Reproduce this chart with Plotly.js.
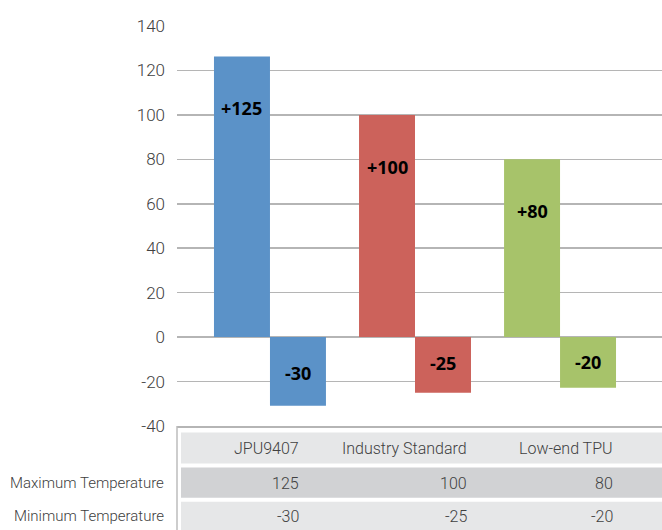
<!DOCTYPE html>
<html><head><meta charset="utf-8">
<script src="https://cdn.plot.ly/plotly-3.0.1.min.js"></script>
<style>html,body{margin:0;padding:0;background:#fff}#chart{width:662px;height:530px}</style>
</head><body><div id="chart"></div>
<script>
// ---- data ----
const categories = ['JPU9407', 'Industry Standard', 'Low-end TPU'];
const rowLabels = ['Maximum Temperature', 'Minimum Temperature'];
const maxTemp = [125, 100, 80];      // labelled values
const minTemp = [-30, -25, -20];
const maxBar = [126.3, 100, 80];     // bar lengths as drawn
const minBar = [-30.9, -25, -22.8];
const barColors = ['#5B92C8', '#CC625B', '#A7C36A'];
const yTicks = [-40, -20, 0, 20, 40, 60, 80, 100, 120, 140];

// ---- layout helpers (pixel geometry) ----
const W = 662, H = 530, L = 177, T = 25.5, B = 426.5;
const px = x => (x - L) / (W - L);
const py = y => (B - y) / (B - T);

const thin = {family: 'Roboto, "Open Sans", sans-serif', size: 16, color: '#404040', weight: 300};
const rowFont = {family: 'Roboto, "Open Sans", sans-serif', size: 15, color: '#404040', weight: 300};
const tickFont = {family: 'Roboto, "Open Sans", sans-serif', size: 17, color: '#404040', weight: 300};
const bold = {family: '"Open Sans", sans-serif', size: 18, color: '#000000', weight: 700};

const traces = [
  {type: 'bar', x: categories, y: maxBar, marker: {color: barColors}, hoverinfo: 'skip', name: rowLabels[0]},
  {type: 'bar', x: categories, y: minBar, marker: {color: barColors}, hoverinfo: 'skip', name: rowLabels[1]}
];

const annotations = [];
const shapes = [];
// bar value labels
const offMax = -52, offMin = [33, 30, 26];
categories.forEach((c, i) => {
  annotations.push({xref: 'x', yref: 'y', x: i, xshift: -28, y: maxBar[i], yshift: offMax,
    text: '+' + maxTemp[i], showarrow: false, font: bold, xanchor: 'center', yanchor: 'middle'});
  annotations.push({xref: 'x', yref: 'y', x: i, xshift: 28, y: minBar[i], yshift: offMin[i],
    text: String(minTemp[i]), showarrow: false, font: bold, xanchor: 'center', yanchor: 'middle'});
});
// data table rows
const rows = [
  {y0: 433, y1: 464, fill: '#E6E7E8', cells: categories},
  {y0: 468, y1: 498.5, fill: '#D1D2D4', cells: maxTemp.map(String), label: rowLabels[0]},
  {y0: 502.5, y1: 532, fill: '#E6E7E8', cells: minTemp.map(String), label: rowLabels[1]}
];
const cellRight = [301, 469, 615];
rows.forEach(r => {
  shapes.push({type: 'rect', xref: 'paper', yref: 'paper', x0: px(181), x1: px(663),
    y0: py(r.y1), y1: py(r.y0), fillcolor: r.fill, line: {width: 0}, layer: 'below'});
  const yc = py((r.y0 + Math.min(r.y1, 530)) / 2 + 0.5);
  r.cells.forEach((t, i) => annotations.push({xref: 'paper', yref: 'paper', x: px(cellRight[i]), y: yc,
    text: t, showarrow: false, font: thin, xanchor: 'right', yanchor: 'middle'}));
  if (r.label) annotations.push({xref: 'paper', yref: 'paper', x: px(166), y: yc,
    text: r.label, showarrow: false, font: rowFont, xanchor: 'right', yanchor: 'middle'});
});
// table left border
shapes.push({type: 'line', xref: 'paper', yref: 'paper', x0: px(177), x1: px(177), y0: py(426.5), y1: py(531),
  line: {color: '#BDBDBD', width: 1.5}});

const layout = {
  width: W, height: H,
  margin: {l: L, r: 0, t: T, b: H - B, pad: 0},
  paper_bgcolor: '#ffffff', plot_bgcolor: '#ffffff',
  showlegend: false,
  barmode: 'group', bargap: 0.228, bargroupgap: 0,
  xaxis: {type: 'category', range: [-0.641, 2.703], showticklabels: false, ticks: '',
    showgrid: false, zeroline: false, showline: true, linecolor: '#B5B5B5', linewidth: 1.5, fixedrange: true},
  yaxis: {range: [-40, 140], tickvals: yTicks, ticktext: yTicks.map(String), showgrid: true,
    gridcolor: '#B5B5B5', gridwidth: 1.5, zeroline: true, zerolinecolor: '#B5B5B5', zerolinewidth: 1.5,
    showline: false, ticks: '', ticklen: 0, tickfont: tickFont, ticklabelstandoff: 11, fixedrange: true},
  annotations: annotations,
  shapes: shapes
};
Plotly.newPlot('chart', traces, layout, {displayModeBar: false, staticPlot: true});
</script></body></html>
